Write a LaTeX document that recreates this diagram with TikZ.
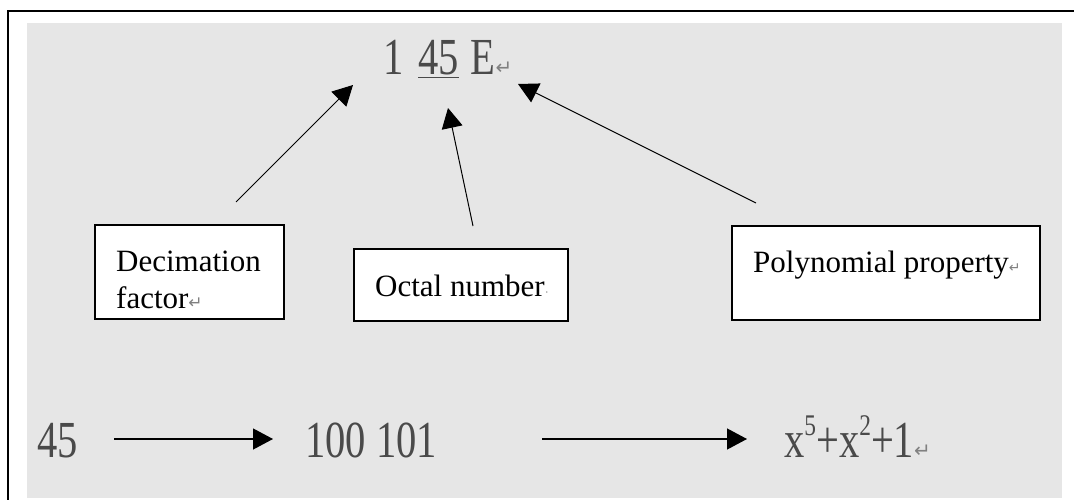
\documentclass[tikz,border=0pt]{standalone}
\usepackage{fontspec}
\setmainfont{Liberation Serif}
\newfontfamily\symfont{DejaVu Sans}
\usetikzlibrary{arrows.meta}
\definecolor{panel}{HTML}{E6E6E6}
\definecolor{bigtext}{HTML}{4A4A4A}
\newcommand{\parmark}[1][20]{{\symfont\fontsize{#1}{#1}\selectfont\textcolor{gray}{↵}}}
\newcommand{\narrow}[1]{\scalebox{0.78}[1]{#1}}
\begin{document}
\begin{tikzpicture}[x=1pt,y=-1pt,
  big/.style={inner sep=0pt, anchor=base west, text=bigtext,
    font=\fontsize{52}{60}\selectfont},
  label/.style={inner sep=0pt, anchor=base west, text=black,
    font=\fontsize{31}{36}\selectfont},
  box/.style={draw=black, line width=1.5pt, fill=white},
  arr/.style={line width=1pt, -{Triangle[length=20pt,width=21pt]}}]
\useasboundingbox (0,0) rectangle (1074,500);
% page and panel
\fill[white] (0,0) rectangle (1074,500);
\fill[panel] (27,23) rectangle (1062,498);
\draw[line width=2pt] (7.5,500) -- (7.5,11) -- (1074,11);

% code word at the top
\node[big] (code) at (383,75) {\narrow{1\hspace{0.36em}\underline{45}\hspace{0.3em}E}\parmark};

% the three description boxes
\draw[box] (95,225) rectangle (284,319);
\draw[box] (354,249) rectangle (568,321);
\draw[box] (732,226) rectangle (1040,320);
\node[label] (dec1) at (116,271) {Decimation};
\node[label] (dec2) at (116,308) {factor\parmark[17]};
\node[label] (oct) at (375,296) {Octal number\textcolor{gray}{\fontsize{12}{12}\selectfont ·}};
\node[label] (poly) at (753,272) {Polynomial property\parmark[14]};

% arrows pointing at parts of the code word
\coordinate (d0) at (236,202); \coordinate (d1) at (353,85);
\coordinate (o0) at (473,226); \coordinate (o1) at (448,108);
\coordinate (p0) at (756,203); \coordinate (p1) at (518,84);
\draw[arr] (d0) -- (d1);
\draw[arr] (o0) -- (o1);
\draw[arr] (p0) -- (p1);

% conversion chain
\node[big] (oc) at (37,457) {\narrow{45}};
\node[big] (bin) at (305,457) {\narrow{100 101}};
\node[big] (pol) at (784,457) {\narrow{x\raisebox{22pt}{\fontsize{30}{30}\selectfont 5}+x\raisebox{22pt}{\fontsize{30}{30}\selectfont 2}+1}\parmark};
\coordinate (b0) at (114,439); \coordinate (b1) at (273,439);
\coordinate (c0) at (542,439); \coordinate (c1) at (747,439);
\draw[arr, line width=1.2pt] (b0) -- (b1);
\draw[arr, line width=1.2pt] (c0) -- (c1);
\end{tikzpicture}
\end{document}
